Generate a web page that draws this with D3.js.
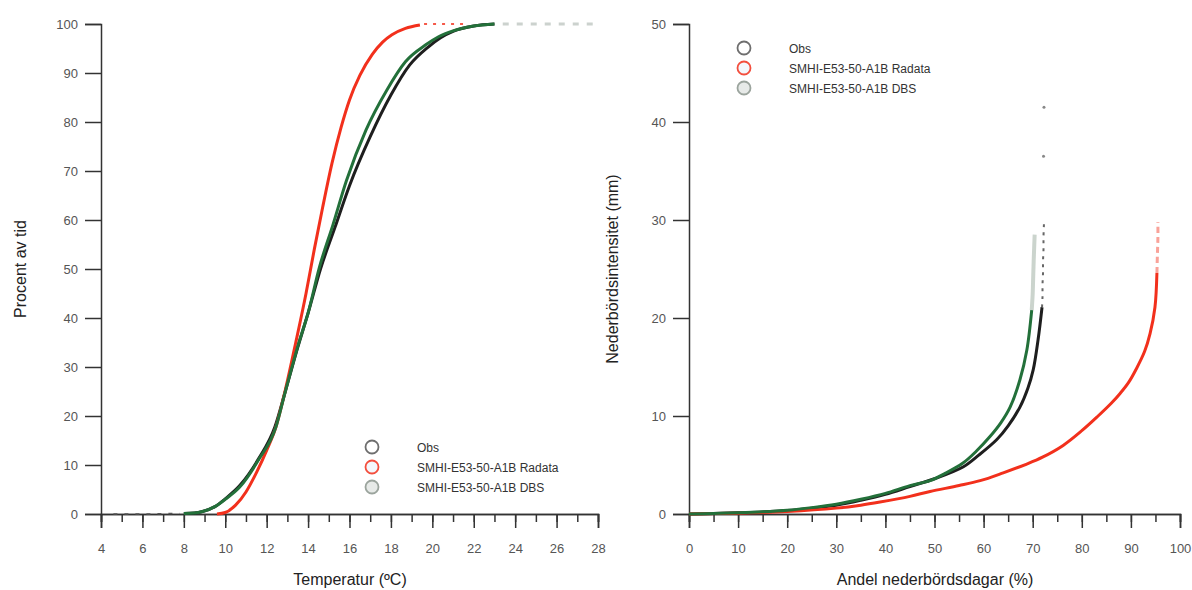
<!DOCTYPE html>
<html>
<meta charset="utf-8">
<title>Temperatur och nederbörd</title>
<style>
  body { margin: 0; background: #fff; }
  text { font-family: "Liberation Sans", Arial, sans-serif; }
</style>
<div id="chart"></div>
<script src="https://d3js.org/d3.v7.min.js"></script>
<script>
// ---- data ----
// left panel: temperature (x) vs percent of time (y)
var tempTicks = [4, 6, 8, 10, 12, 14, 16, 18, 20, 22, 24, 26, 28];
var pctTicks = [0, 10, 20, 30, 40, 50, 60, 70, 80, 90, 100];

var obsT = [8.0, 8.5, 8.9, 9.5, 10.0, 10.7, 11.6, 12.4, 12.9, 13.5, 14.0, 14.6, 15.3, 16.0, 17.0, 18.0, 18.9, 19.8, 20.4, 21.0, 22.0, 23.0];
var obsP = [0.1, 0.2, 0.5, 1.5, 3.1, 5.8, 11.2, 17.8, 25, 34, 41, 50, 58.5, 67, 77, 85.5, 91.6, 95.3, 97.2, 98.5, 99.6, 100];
var radT = [9.6, 10.0, 10.5, 11.0, 11.5, 12.0, 12.45, 12.9, 13.4, 13.9, 14.3, 14.7, 15.15, 15.6, 16.0, 16.5, 17.1, 17.6, 18.05, 18.7, 19.4];
var radP = [0, 0.3, 1.8, 4.5, 8.4, 13, 17.8, 25.3, 34.9, 45, 54, 62.5, 71.5, 79, 84.5, 89.5, 93.8, 96.3, 97.8, 99.1, 99.8];
var dbsT = [8.0, 8.5, 8.9, 9.5, 10.0, 10.7, 11.6, 12.45, 12.9, 13.55, 14.0, 14.55, 15.2, 15.85, 16.8, 17.8, 18.7, 19.7, 20.3, 21.0, 22.0, 23.0];
var dbsP = [0.1, 0.2, 0.5, 1.5, 3, 5.5, 11, 17.8, 25, 34.9, 41, 50.4, 59, 68, 78.4, 86.5, 92.3, 95.8, 97.4, 98.6, 99.6, 100];
// sparse tails of the left curves
var lowTailT = [4.6, 5.0, 5.4, 5.8, 6.2, 6.6, 7.0, 7.4, 7.8];
var lowTailP = [0, 0, 0, 0, 0, 0.05, 0.05, 0.1, 0.1];
var radTopT = [19.6, 20.0, 20.4, 20.8, 21.2, 21.6];
var dbsTopT = [23.4, 23.9, 24.4, 25.0, 25.6, 26.2, 26.8, 27.4, 28.0];

// right panel: share of precipitation days (x) vs intensity (y)
var andelTicks = [0, 10, 20, 30, 40, 50, 60, 70, 80, 90, 100];
var mmTicks = [0, 10, 20, 30, 40, 50];

var obsX = [0, 5, 10, 15, 20, 25, 30, 35, 40, 45, 50, 55.8, 59, 62.7, 65, 67.4, 69, 70.1, 71.1, 71.9];
var obsY = [0, 0.05, 0.12, 0.2, 0.35, 0.6, 0.9, 1.4, 2.0, 2.8, 3.6, 4.8, 6.0, 7.6, 9.0, 10.9, 12.8, 14.7, 17.8, 21.1];
var radX = [0, 10, 20, 30, 35, 38.9, 45, 49.1, 55, 59.3, 64, 68.8, 72, 76.2, 80, 83.1, 86, 87.8, 89.5, 91.2, 92.8, 93.9, 94.9, 95.3];
var radY = [0, 0.08, 0.25, 0.6, 0.9, 1.22, 1.8, 2.3, 2.9, 3.4, 4.2, 5.1, 5.8, 7.0, 8.5, 9.9, 11.3, 12.3, 13.4, 14.9, 16.6, 18.4, 21.1, 24.6];
var dbsX = [0, 5, 10, 15, 20, 25, 30, 35, 40, 45, 49.1, 52, 55.8, 58.5, 61.3, 63.5, 65.4, 67.4, 68.8, 69.8];
var dbsY = [0, 0.05, 0.12, 0.22, 0.38, 0.65, 1.0, 1.5, 2.1, 2.9, 3.4, 4.1, 5.2, 6.4, 7.9, 9.3, 10.9, 13.7, 16.7, 20.8];
// sparse tails of the right curves
var obsTailX = [71.9, 72.0, 72.0, 72.1, 72.1, 72.2, 72.2, 72.3];
var obsTailY = [21.1, 22.2, 23.4, 24.6, 25.8, 27.0, 28.3, 29.7];
var obsOutX = [72.2, 72.3];
var obsOutY = [36.5, 41.5];
var dbsTailX = [69.8, 70.0, 70.1, 70.2, 70.3, 70.4];
var dbsTailY = [20.8, 22.5, 24.2, 25.8, 27.2, 28.5];
var radTailX = [95.3, 95.4, 95.5, 95.5];
var radTailY = [24.6, 26.5, 28.2, 29.8];

var series = ["Obs", "SMHI-E53-50-A1B Radata", "SMHI-E53-50-A1B DBS"];
var colors = {obs: "#1e1e1e", rad: "#f2301c", dbs: "#23703a"};

var W = 1192, H = 590;
var svg = d3.select("#chart").append("svg").attr("width", W).attr("height", H);

function zip(xs, ys) { return xs.map(function (x, i) { return [x, ys[i]]; }); }

// ---------- left panel ----------
var xL = d3.scaleLinear().domain([4, 28]).range([101, 598]);
var yL = d3.scaleLinear().domain([0, 100]).range([514, 24]);

var gL = svg.append("g");
gL.append("g").attr("transform", "translate(0,514)")
  .call(d3.axisBottom(xL).tickValues(d3.range(4, 29, 1)).tickSize(8).tickFormat(""));
gL.append("g").attr("transform", "translate(0,514)")
  .call(d3.axisBottom(xL).tickValues(tempTicks).tickSize(14).tickPadding(16).tickFormat(d3.format("d")));
gL.append("g").attr("transform", "translate(101,0)")
  .call(d3.axisLeft(yL).tickValues(pctTicks).tickSize(16).tickPadding(7));

var lineL = d3.line().x(function (d) { return xL(d[0]); }).y(function (d) { return yL(d[1]); })
  .curve(d3.curveMonotoneX);

// tails
gL.append("path").datum(zip(lowTailT, lowTailP)).attr("d", lineL.curve(d3.curveLinear))
  .attr("fill", "none").attr("stroke", "#555").attr("stroke-width", 1.5).attr("stroke-dasharray", "4,7");
gL.append("path").datum(radTopT.map(function (t) { return [t, 100]; })).attr("d", lineL)
  .attr("fill", "none").attr("stroke", colors.rad).attr("stroke-width", 2).attr("stroke-dasharray", "3,6").attr("opacity", 0.8);
gL.append("path").datum(dbsTopT.map(function (t) { return [t, 100]; })).attr("d", lineL)
  .attr("fill", "none").attr("stroke", "#aab4ad").attr("stroke-width", 3).attr("stroke-dasharray", "6,8").attr("opacity", 0.6);
lineL.curve(d3.curveMonotoneX);

gL.append("path").datum(zip(obsT, obsP)).attr("d", lineL)
  .attr("fill", "none").attr("stroke", colors.obs).attr("stroke-width", 3);
gL.append("path").datum(zip(radT, radP)).attr("d", lineL)
  .attr("fill", "none").attr("stroke", colors.rad).attr("stroke-width", 3);
gL.append("path").datum(zip(dbsT, dbsP)).attr("d", lineL)
  .attr("fill", "none").attr("stroke", colors.dbs).attr("stroke-width", 3);

gL.append("text").attr("transform", "translate(26,269) rotate(-90)")
  .attr("text-anchor", "middle").style("font-size", "16px").attr("fill", "#222").text("Procent av tid");
gL.append("text").attr("x", 350).attr("y", 585)
  .attr("text-anchor", "middle").style("font-size", "16px").attr("fill", "#222").text("Temperatur (ºC)");

// ---------- right panel ----------
var xR = d3.scaleLinear().domain([0, 100]).range([689, 1180]);
var yR = d3.scaleLinear().domain([0, 50]).range([514, 24]);

var gR = svg.append("g");
gR.append("g").attr("transform", "translate(0,514)")
  .call(d3.axisBottom(xR).tickValues(d3.range(0, 101, 5)).tickSize(8).tickFormat(""));
gR.append("g").attr("transform", "translate(0,514)")
  .call(d3.axisBottom(xR).tickValues(andelTicks).tickSize(14).tickPadding(16).tickFormat(d3.format("d")));
gR.append("g").attr("transform", "translate(689,0)")
  .call(d3.axisLeft(yR).tickValues(mmTicks).tickSize(16).tickPadding(7));

var lineR = d3.line().x(function (d) { return xR(d[0]); }).y(function (d) { return yR(d[1]); })
  .curve(d3.curveCatmullRom.alpha(0.5));

gR.append("path").datum(zip(obsTailX, obsTailY)).attr("d", lineR)
  .attr("fill", "none").attr("stroke", "#666").attr("stroke-width", 2).attr("stroke-dasharray", "3,5");
gR.append("path").datum(zip(dbsTailX, dbsTailY)).attr("d", lineR)
  .attr("fill", "none").attr("stroke", "#a9b8ac").attr("stroke-width", 4).attr("opacity", 0.6);
gR.append("path").datum(zip(radTailX, radTailY)).attr("d", lineR)
  .attr("fill", "none").attr("stroke", colors.rad).attr("stroke-width", 3).attr("stroke-dasharray", "6,4").attr("opacity", 0.45);
gR.selectAll("circle.out").data(zip(obsOutX, obsOutY)).enter().append("circle")
  .attr("cx", function (d) { return xR(d[0]); }).attr("cy", function (d) { return yR(d[1]); })
  .attr("r", 1.5).attr("fill", "#888");

gR.append("path").datum(zip(obsX, obsY)).attr("d", lineR)
  .attr("fill", "none").attr("stroke", colors.obs).attr("stroke-width", 3);
gR.append("path").datum(zip(radX, radY)).attr("d", lineR)
  .attr("fill", "none").attr("stroke", colors.rad).attr("stroke-width", 3);
gR.append("path").datum(zip(dbsX, dbsY)).attr("d", lineR)
  .attr("fill", "none").attr("stroke", colors.dbs).attr("stroke-width", 3);

gR.append("text").attr("transform", "translate(618,269) rotate(-90)")
  .attr("text-anchor", "middle").style("font-size", "16px").attr("fill", "#222").text("Nederbördsintensitet (mm)");
gR.append("text").attr("x", 935).attr("y", 585)
  .attr("text-anchor", "middle").style("font-size", "16px").attr("fill", "#222").text("Andel nederbördsdagar (%)");

// axis styling
svg.selectAll(".domain").attr("stroke", "#333").attr("stroke-width", 1.5);
svg.selectAll(".tick line").attr("stroke", "#333").attr("stroke-width", 1.5);
svg.selectAll(".tick text").attr("fill", "#555").style("font-size", "13px")
  .style("font-family", "'Liberation Sans', Arial, sans-serif");

// ---------- legends ----------
function legend(x, y) {
  var g = svg.append("g").attr("transform", "translate(" + x + "," + y + ")");
  var strokes = ["#555", colors.rad, "#8a958d"];
  var fills = ["none", "#f3f6fb", "#e3e7e4"];
  series.forEach(function (name, i) {
    g.append("circle").attr("cx", 0).attr("cy", i * 20).attr("r", 6.5)
      .attr("fill", fills[i]).attr("stroke", strokes[i]).attr("stroke-width", 1.8).attr("opacity", 0.85);
    g.append("text").attr("x", 45).attr("y", i * 20 + 4.5)
      .style("font-size", "12px").attr("fill", "#333").text(name);
  });
}
legend(372, 447);
legend(744, 48);
</script>
</html>
